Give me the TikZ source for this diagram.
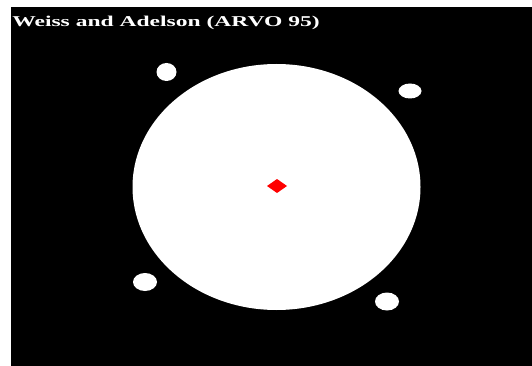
\documentclass[tikz,border=0pt]{standalone}
\usepackage{fontspec}
\setmainfont{Liberation Serif}
\begin{document}
\begin{tikzpicture}[x=1pt,y=-1pt,
  dot/.style={fill=white},
  title/.style={text=white,font=\bfseries\fontsize{15}{15}\selectfont,inner sep=0pt,anchor=base west,xscale=1.57}]
\useasboundingbox (0,0) rectangle (532,366);
\fill[white] (0,0) rectangle (532,366);
\fill[black] (11,7) rectangle (532,366);
\fill[white] (276.5,187) ellipse [x radius=144, y radius=123];
\fill[dot] (166.5,72) ellipse [x radius=10, y radius=9];
\fill[dot] (410,91) ellipse [x radius=11.5, y radius=7.5];
\fill[dot] (145,282) ellipse [x radius=12, y radius=9];
\fill[dot] (387,301.5) ellipse [x radius=12, y radius=9];
\fill[red] (267,186) -- (277,179) -- (287,186) -- (277,193) -- cycle;
\node[title] (t) at (12,27) {Weiss and Adelson (ARVO 95)};
\end{tikzpicture}
\end{document}
